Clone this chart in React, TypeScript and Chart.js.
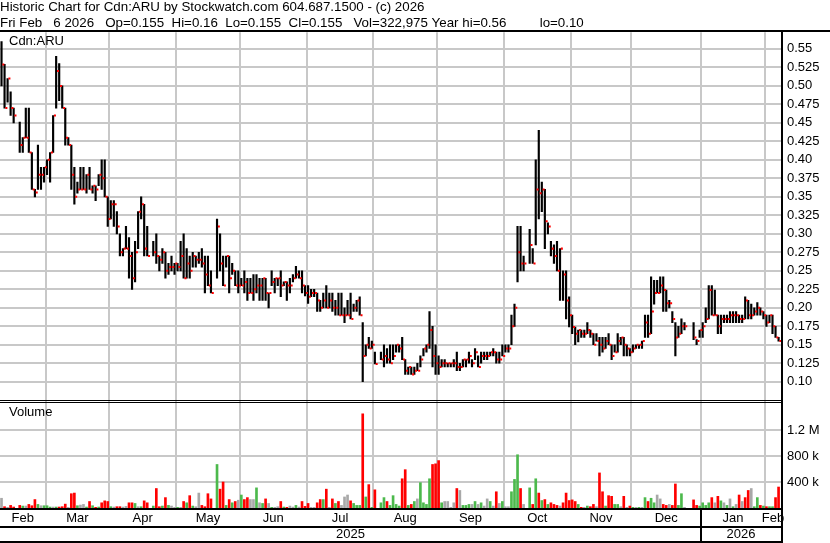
import { useEffect, useRef } from 'react';
import { Chart, registerables } from 'chart.js';

Chart.register(...registerables);

const FONT = '"Liberation Sans", Arial, Helvetica, sans-serif';

const headerLines = [
  'Historic Chart for Cdn:ARU by Stockwatch.com 604.687.1500 - (c) 2026',
  'Fri Feb   6 2026   Op=0.155  Hi=0.16  Lo=0.155  Cl=0.155   Vol=322,975 Year hi=0.56         lo=0.10',
];
const symbolLabel = 'Cdn:ARU';
const volumeLabel = 'Volume';

// one slot per trading session, null = no trade
const highs = [
  0.56, 0.529, 0.51, 0.492, 0.47, null, 0.451, 0.43, 0.47, 0.47,
  0.41, 0.36, 0.42, 0.39, 0.39, 0.40, 0.41, 0.46, 0.54, 0.53,
  0.50, 0.47, 0.43, 0.42, 0.39, 0.37, 0.39, 0.39, 0.38, 0.39,
  0.365, 0.365, 0.38, 0.40, 0.40, 0.35, 0.345, 0.345, 0.33, 0.30,
  0.28, 0.31, 0.295, 0.275, 0.29, 0.33, 0.35, 0.34, 0.31, null,
  0.29, 0.30, 0.27, 0.28, 0.275, 0.26, 0.27, 0.26, 0.26, 0.29,
  0.30, 0.28, 0.27, 0.275, 0.27, 0.275, 0.28, 0.27, 0.27, 0.25,
  null, 0.32, 0.30, 0.27, 0.27, 0.27, 0.26, 0.25, 0.25, 0.24,
  0.25, 0.24, 0.24, 0.245, 0.245, 0.24, 0.24, 0.24, 0.22, 0.25,
  0.24, 0.24, 0.25, 0.235, 0.235, 0.24, 0.245, 0.256, 0.25, 0.25,
  0.23, 0.23, 0.225, 0.225, 0.22, 0.21, 0.22, 0.23, 0.22, 0.22,
  0.21, 0.22, 0.22, 0.20, 0.21, 0.22, 0.205, 0.21, 0.215, 0.18,
  0.15, 0.16, 0.155, 0.14, null, 0.14, 0.15, 0.145, 0.15, 0.15,
  0.15, 0.15, 0.16, 0.13, 0.12, 0.12, 0.12, 0.125, 0.135, 0.145,
  0.15, 0.195, 0.175, 0.15, 0.135, 0.13, 0.13, 0.125, 0.125, 0.13,
  0.14, 0.125, 0.13, 0.13, 0.14, 0.13, 0.145, 0.135, 0.14, 0.14,
  0.14, 0.14, 0.145, 0.14, 0.14, 0.15, 0.15, 0.15, 0.19, 0.205,
  0.31, 0.31, 0.27, null, 0.306, 0.28, 0.40, 0.44, 0.37, 0.36,
  0.315, 0.29, 0.285, 0.29, 0.28, 0.25, 0.25, 0.215, 0.19, 0.174,
  0.17, 0.17, 0.17, 0.18, 0.17, 0.165, 0.165, 0.16, 0.16, 0.16,
  0.165, 0.15, 0.15, 0.165, 0.16, 0.16, 0.15, 0.145, 0.15, 0.15,
  0.15, 0.155, 0.19, 0.19, 0.242, 0.237, 0.237, 0.242, 0.242, 0.224,
  0.21, 0.195, 0.18, 0.175, 0.185, 0.18, null, null, 0.18, 0.157,
  0.17, 0.18, 0.20, 0.23, 0.23, 0.224, 0.19, 0.19, 0.19, 0.19,
  0.195, 0.195, 0.195, 0.19, 0.19, 0.215, 0.21, 0.205, 0.20, 0.207,
  0.20, 0.195, 0.19, 0.19, 0.19, 0.175, 0.16,
];

const lows = [
  0.50, 0.47, 0.478, 0.46, 0.45, null, 0.41, 0.41, 0.43, 0.41,
  0.36, 0.35, 0.36, 0.36, 0.37, 0.38, 0.37, 0.41, 0.47, 0.48,
  0.47, 0.42, 0.42, 0.36, 0.34, 0.355, 0.36, 0.36, 0.355, 0.36,
  0.355, 0.345, 0.365, 0.36, 0.35, 0.31, 0.32, 0.31, 0.30, 0.27,
  0.27, 0.28, 0.24, 0.225, 0.235, 0.28, 0.32, 0.27, 0.27, null,
  0.27, 0.26, 0.25, 0.26, 0.24, 0.245, 0.25, 0.245, 0.25, 0.25,
  0.24, 0.24, 0.24, 0.255, 0.255, 0.26, 0.255, 0.22, 0.23, 0.22,
  null, 0.24, 0.25, 0.23, 0.255, 0.22, 0.245, 0.23, 0.22, 0.23,
  0.22, 0.21, 0.22, 0.21, 0.22, 0.21, 0.21, 0.21, 0.20, 0.23,
  0.22, 0.23, 0.215, 0.23, 0.21, 0.22, 0.235, 0.24, 0.24, 0.22,
  0.216, 0.206, 0.215, 0.215, 0.195, 0.195, 0.20, 0.20, 0.20, 0.195,
  0.19, 0.19, 0.19, 0.18, 0.19, 0.185, 0.195, 0.195, 0.19, 0.10,
  0.135, 0.145, 0.145, 0.124, null, 0.13, 0.12, 0.125, 0.125, 0.13,
  0.14, 0.14, 0.13, 0.11, 0.11, 0.11, 0.11, 0.115, 0.12, 0.135,
  0.14, 0.145, 0.12, 0.11, 0.11, 0.12, 0.12, 0.12, 0.12, 0.12,
  0.115, 0.115, 0.12, 0.12, 0.125, 0.12, 0.13, 0.12, 0.125, 0.13,
  0.13, 0.135, 0.135, 0.125, 0.125, 0.135, 0.14, 0.14, 0.15, 0.175,
  0.235, 0.25, 0.25, null, 0.26, 0.26, 0.285, 0.32, 0.33, 0.28,
  0.30, 0.27, 0.26, 0.25, 0.21, 0.21, 0.185, 0.174, 0.165, 0.15,
  0.154, 0.16, 0.16, 0.165, 0.16, 0.15, 0.155, 0.135, 0.14, 0.145,
  0.15, 0.13, 0.14, 0.14, 0.15, 0.135, 0.135, 0.135, 0.14, 0.145,
  0.145, 0.145, 0.16, 0.16, 0.165, 0.205, 0.22, 0.22, 0.195, 0.195,
  0.20, 0.18, 0.135, 0.16, 0.165, 0.17, null, null, 0.157, 0.15,
  0.16, 0.16, 0.18, 0.185, 0.19, 0.19, 0.165, 0.165, 0.18, 0.18,
  0.18, 0.18, 0.18, 0.18, 0.18, 0.185, 0.185, 0.185, 0.19, 0.19,
  0.19, 0.185, 0.175, 0.18, 0.165, 0.16, 0.155,
];

const closes = [
  0.529, 0.47, 0.51, 0.47, 0.46, null, 0.42, 0.43, 0.43, 0.41,
  0.36, 0.356, 0.38, 0.38, 0.39, 0.40, 0.41, 0.46, 0.52, 0.50,
  0.47, 0.43, 0.42, 0.38, 0.35, 0.36, 0.36, 0.36, 0.38, 0.36,
  0.365, 0.36, 0.38, 0.375, 0.35, 0.32, 0.34, 0.34, 0.31, 0.275,
  0.28, 0.28, 0.27, 0.24, 0.275, 0.33, 0.34, 0.28, 0.27, null,
  0.275, 0.27, 0.265, 0.275, 0.25, 0.255, 0.255, 0.26, 0.255, 0.27,
  0.24, 0.26, 0.25, 0.27, 0.265, 0.265, 0.26, 0.245, 0.23, 0.22,
  null, 0.31, 0.26, 0.23, 0.27, 0.24, 0.25, 0.23, 0.23, 0.23,
  0.235, 0.22, 0.22, 0.225, 0.23, 0.23, 0.24, 0.22, 0.22, 0.235,
  0.24, 0.24, 0.23, 0.235, 0.23, 0.23, 0.24, 0.245, 0.24, 0.23,
  0.22, 0.215, 0.22, 0.22, 0.21, 0.20, 0.21, 0.20, 0.21, 0.20,
  0.20, 0.19, 0.19, 0.19, 0.19, 0.185, 0.20, 0.21, 0.19, 0.135,
  0.15, 0.145, 0.15, 0.124, null, 0.13, 0.135, 0.13, 0.125, 0.135,
  0.15, 0.145, 0.13, 0.115, 0.12, 0.11, 0.115, 0.115, 0.13, 0.145,
  0.15, 0.17, 0.135, 0.125, 0.12, 0.125, 0.125, 0.125, 0.125, 0.125,
  0.12, 0.12, 0.13, 0.13, 0.135, 0.125, 0.14, 0.12, 0.135, 0.135,
  0.135, 0.14, 0.14, 0.13, 0.13, 0.135, 0.145, 0.145, 0.175, 0.20,
  0.275, 0.26, 0.26, null, 0.285, 0.26, 0.36, 0.355, 0.36, 0.317,
  0.31, 0.28, 0.27, 0.25, 0.28, 0.245, 0.21, 0.19, 0.174, 0.165,
  0.17, 0.165, 0.165, 0.17, 0.165, 0.15, 0.155, 0.15, 0.145, 0.155,
  0.15, 0.135, 0.14, 0.155, 0.16, 0.15, 0.145, 0.14, 0.145, 0.15,
  0.15, 0.155, 0.18, 0.165, 0.195, 0.22, 0.22, 0.23, 0.224, 0.206,
  0.206, 0.185, 0.16, 0.165, 0.175, 0.175, null, null, 0.16, 0.155,
  0.17, 0.175, 0.185, 0.224, 0.19, 0.19, 0.175, 0.185, 0.185, 0.185,
  0.19, 0.19, 0.19, 0.185, 0.185, 0.21, 0.19, 0.19, 0.195, 0.20,
  0.195, 0.19, 0.18, 0.19, 0.175, 0.16, 0.155,
];

// volume in thousands of shares
const volumeK = [
  150, 20, 10, 40, 15, null, 40, 30, 30, 55,
  35, 130, 55, 35, 35, 35, 15, 15, 15, 15,
  20, 60, 10, 220, 230, 35, 45, 55, 15, 100,
  35, 10, 15, 80, 110, 100, 20, 15, 20, 20,
  15, 25, 80, 80, 70, 20, 20, 110, 80, null,
  30, 300, 20, 30, 160, 40, 30, 10, 10, 10,
  100, 80, 190, 30, 20, 230, 40, 20, 220, 140,
  null, 670, 290, 400, 40, 130, 80, 100, 120, 200,
  130, 160, 130, 130, 310, 80, 70, 140, 70, 10,
  10, 20, 100, 15, 10, 30, 15, 40, 15, 100,
  25, 70, 10, 10, 80, 130, 130, 290, 10, 140,
  70, 100, 40, 170, 200, 110, 70, 40, 40, 1450,
  170, 360, 10, 280, null, 80, 160, 100, 40, 190,
  55, 30, 450, 590, 40, 55, 100, 140, 390, 80,
  55, 450, 670, 680, 730, 80, 100, 100, 10, 80,
  300, 270, 40, 40, 55, 55, 100, 55, 80, 30,
  140, 100, 30, 250, 70, 100, 20, 20, 250, 440,
  820, 300, 55, null, 310, 55, 450, 230, 115, 130,
  55, 80, 55, 40, 30, 80, 230, 115, 125, 100,
  55, 10, 10, 30, 20, 55, 20, 540, 250, 30,
  190, 180, 55, 55, 20, 180, 10, 30, 10, 10,
  10, 10, 160, 100, 150, 80, 200, 140, 55, 40,
  55, 40, 370, 40, 220, 10, null, null, 125, 40,
  30, 80, 40, 80, 160, 80, 180, 110, 80, 40,
  140, 20, 55, 200, 100, 160, 270, 300, 20, 160,
  40, 30, 20, 20, 20, 160, 323,
];

// u = up, d = down, n = unchanged
const volumeDir = [
  'n', 'd', 'n', 'd', 'd', null, 'd', 'u', 'n', 'd',
  'd', 'd', 'u', 'n', 'u', 'u', 'u', 'n', 'u', 'd',
  'd', 'd', 'n', 'd', 'd', 'u', 'n', 'n', 'u', 'd',
  'u', 'd', 'u', 'd', 'd', 'd', 'u', 'n', 'd', 'd',
  'n', 'n', 'd', 'd', 'u', 'n', 'u', 'd', 'd', null,
  'u', 'd', 'd', 'u', 'd', 'u', 'n', 'n', 'u', 'n',
  'd', 'u', 'd', 'u', 'n', 'n', 'd', 'd', 'd', 'd',
  null, 'u', 'd', 'd', 'u', 'd', 'u', 'd', 'n', 'u',
  'd', 'd', 'n', 'n', 'u', 'n', 'u', 'd', 'n', 'u',
  'n', 'n', 'd', 'u', 'd', 'n', 'n', 'u', 'n', 'd',
  'd', 'd', 'n', 'n', 'd', 'd', 'u', 'd', 'n', 'd',
  'u', 'd', 'n', 'n', 'n', 'd', 'u', 'u', 'u', 'd',
  'u', 'd', 'u', 'd', null, 'u', 'u', 'd', 'u', 'u',
  'u', 'u', 'd', 'd', 'u', 'd', 'u', 'n', 'u', 'u',
  'u', 'u', 'd', 'd', 'd', 'u', 'n', 'n', 'n', 'n',
  'd', 'n', 'u', 'u', 'u', 'n', 'u', 'n', 'u', 'n',
  'n', 'u', 'n', 'd', 'n', 'u', 'n', 'n', 'u', 'u',
  'u', 'd', 'n', null, 'u', 'd', 'u', 'd', 'u', 'd',
  'u', 'd', 'd', 'd', 'n', 'd', 'd', 'd', 'd', 'd',
  'u', 'd', 'n', 'u', 'd', 'd', 'n', 'd', 'd', 'u',
  'd', 'd', 'u', 'u', 'n', 'd', 'n', 'd', 'u', 'n',
  'u', 'n', 'u', 'd', 'u', 'u', 'n', 'n', 'd', 'd',
  'n', 'd', 'd', 'u', 'u', 'n', null, null, 'd', 'd',
  'u', 'u', 'u', 'u', 'd', 'n', 'd', 'u', 'n', 'u',
  'n', 'u', 'n', 'd', 'n', 'd', 'd', 'n', 'u', 'u',
  'd', 'u', 'd', 'u', 'u', 'd', 'd',
];

const monthNames = ['Feb', 'Mar', 'Apr', 'May', 'Jun', 'Jul', 'Aug', 'Sep', 'Oct', 'Nov', 'Dec', 'Jan', 'Feb'];
const monthStarts = [0, 15, 36, 58, 79, 101, 123, 144, 166, 188, 208, 231, 252];
const yearNames = ['2025', '2026'];
const yearStarts = [0, 231];

const priceTicks = [0.10, 0.125, 0.15, 0.175, 0.20, 0.225, 0.25, 0.275, 0.30, 0.325, 0.35, 0.375, 0.40, 0.425, 0.45, 0.475, 0.50, 0.525, 0.55];
const priceTickLabels = ['0.10', '0.125', '0.15', '0.175', '0.20', '0.225', '0.25', '0.275', '0.30', '0.325', '0.35', '0.375', '0.40', '0.425', '0.45', '0.475', '0.50', '0.525', '0.55'];
const volumeTicks = [400000, 800000, 1200000];
const volumeTickLabels = ['400 k', '800 k', '1.2 M'];

// axis ranges
const X_MIN = -0.5;
const X_MAX = 256.8;
const PRICE_MIN = 0.0753;
const PRICE_MAX = 0.5726;
const VOL_MIN = 0;
const VOL_MAX = 1662000;

const GRID = '#c8c8c8';
const DIR_COLORS: Record<string, string> = { u: '#4cb94c', d: '#ff0000', n: '#a8a8a8' };
const CLOSE_OFFSET = 0.6;

function buildXTicks() {
  const list: { value: number; label: string; grid: boolean }[] = [];
  monthStarts.forEach((s, k) => {
    const a = s - 0.5;
    const b = k + 1 < monthStarts.length ? monthStarts[k + 1] - 0.5 : X_MAX;
    if (k > 0) list.push({ value: a, label: '', grid: true });
    list.push({ value: (a + b) / 2, label: monthNames[k], grid: false });
  });
  return list;
}

function buildYearTicks() {
  return yearStarts.map((s, k) => {
    const a = s - 0.5;
    const b = k + 1 < yearStarts.length ? yearStarts[k + 1] - 0.5 : X_MAX;
    return { value: (a + b) / 2, label: yearNames[k] };
  });
}

const noPadding = (s: any) => {
  s.paddingLeft = 0;
  s.paddingRight = 0;
  s.paddingTop = 0;
  s.paddingBottom = 0;
};

const framePlugin = {
  id: 'stockFrame',
  afterDraw(chart: any) {
    const { ctx, chartArea, scales } = chart;
    const W = chart.width;
    const H = chart.height;
    const left = 0;
    const right = Math.round(chartArea.right);
    const py = scales.y;
    const vy = scales.vol;
    const xs = scales.x;
    const x2 = scales.x2;
    const top = Math.round(chartArea.top);
    const bottom = Math.round(chartArea.bottom);
    ctx.save();
    ctx.fillStyle = '#000';
    // top rule under header
    ctx.fillRect(0, top - 2, W, 2);
    // double rule between panels
    ctx.fillRect(left, Math.round(py.bottom), right - left, 1);
    ctx.fillRect(left, Math.round(py.bottom) + 2, right - left, 1);
    // rule under volume
    ctx.fillRect(left, bottom, right - left, 2);
    // rule under month row
    ctx.fillRect(left, Math.round(xs.bottom), right - left, 2);
    // rule under year row
    ctx.fillRect(left, Math.round(x2.bottom) - 2, right - left + 2, 2);
    // year separator
    const sepX = Math.round(xs.getPixelForValue(yearStarts[1] - 0.5));
    ctx.fillRect(sepX - 1, bottom, 2, H - bottom);
    // right axis rule
    ctx.fillRect(right, top - 2, 2, H - top + 2);
    // panel captions
    ctx.font = '13px ' + FONT;
    ctx.textBaseline = 'top';
    ctx.textAlign = 'left';
    ctx.fillText(symbolLabel, 9, py.top + 2.5);
    ctx.fillText(volumeLabel, 9, vy.top + 6);
    ctx.restore();
  },
};

export default function App() {
  const ref = useRef<HTMLCanvasElement>(null);

  useEffect(() => {
    const canvas = ref.current;
    if (!canvas) return;

    const hlData: any[] = [];
    const closeData: any[] = [];
    highs.forEach((h, i) => {
      if (h == null || lows[i] == null || closes[i] == null) return;
      hlData.push({ x: i, y: [lows[i], h] });
      closeData.push({ x: i + CLOSE_OFFSET, y: closes[i] });
    });
    const volData: any[] = [];
    const volColors: string[] = [];
    volumeK.forEach((v, i) => {
      if (v == null) return;
      volData.push({ x: i, y: v * 1000 });
      volColors.push(DIR_COLORS[volumeDir[i] || 'n']);
    });

    const xTicks = buildXTicks();
    const yearTicks = buildYearTicks();

    Chart.defaults.font.family = FONT;
    Chart.defaults.font.size = 13;
    Chart.defaults.color = '#000';

    const chart = new Chart(canvas, {
      type: 'bar',
      data: {
        datasets: [
          {
            type: 'scatter',
            data: closeData,
            xAxisID: 'x',
            yAxisID: 'y',
            pointStyle: 'rect',
            pointRadius: 1.42,
            pointBorderWidth: 0,
            borderWidth: 0,
            backgroundColor: '#ff0000',
            borderColor: '#ff0000',
            order: 0,
          } as any,
          {
            type: 'bar',
            data: hlData,
            xAxisID: 'x',
            yAxisID: 'y',
            backgroundColor: '#000',
            barThickness: 1.5,
            maxBarThickness: 1.5,
            grouped: false,
            minBarLength: 1,
            order: 1,
          } as any,
          {
            type: 'bar',
            data: volData,
            xAxisID: 'x',
            yAxisID: 'vol',
            backgroundColor: volColors,
            barThickness: 2,
            maxBarThickness: 2,
            grouped: false,
            order: 2,
          } as any,
        ],
      },
      options: {
        responsive: false,
        animation: false,
        events: [],
        layout: { padding: 0, autoPadding: false },
        plugins: {
          legend: { display: false },
          tooltip: { enabled: false },
          title: {
            display: true,
            text: headerLines,
            align: 'start',
            color: '#000',
            font: { family: FONT, size: 13.33, weight: 'normal', lineHeight: 1.17 },
            padding: { top: 0, bottom: 1 },
          },
        },
        scales: {
          x: {
            type: 'linear',
            position: 'bottom',
            offset: false,
            weight: 0,
            min: X_MIN,
            max: X_MAX,
            afterBuildTicks: (s: any) => {
              s.ticks = xTicks.map((t) => ({ value: t.value, grid: t.grid }));
            },
            afterFit: (s: any) => {
              s.height = 18;
              noPadding(s);
            },
            ticks: {
              autoSkip: false,
              maxRotation: 0,
              padding: 3,
              color: '#000',
              font: { family: FONT, size: 13 },
              callback: (_v: any, i: number) => (xTicks[i] ? xTicks[i].label : ''),
            },
            grid: {
              offset: false,
              drawTicks: false,
              tickLength: 0,
              lineWidth: 2,
              color: (c: any) => (c.tick && c.tick.grid ? GRID : 'rgba(0,0,0,0)'),
            },
            border: { display: false },
          },
          x2: {
            type: 'linear',
            position: 'bottom',
            offset: false,
            weight: 1,
            min: X_MIN,
            max: X_MAX,
            afterBuildTicks: (s: any) => {
              s.ticks = yearTicks.map((t) => ({ value: t.value }));
            },
            afterFit: (s: any) => {
              s.height = 17;
              noPadding(s);
            },
            ticks: {
              autoSkip: false,
              maxRotation: 0,
              padding: 1,
              color: '#000',
              font: { family: FONT, size: 13 },
              callback: (_v: any, i: number) => (yearTicks[i] ? yearTicks[i].label : ''),
            },
            grid: { display: false, offset: false, drawTicks: false, tickLength: 0 },
            border: { display: false },
          },
          y: {
            type: 'linear',
            position: 'right',
            stack: 'panels',
            stackWeight: 368,
            min: PRICE_MIN,
            max: PRICE_MAX,
            afterBuildTicks: (s: any) => {
              s.ticks = priceTicks.map((v) => ({ value: v }));
            },
            afterFit: (s: any) => {
              s.width = 49;
              noPadding(s);
            },
            ticks: {
              autoSkip: false,
              padding: 6,
              color: '#000',
              font: { family: FONT, size: 13 },
              callback: (_v: any, i: number) => priceTickLabels[i],
            },
            grid: { color: GRID, lineWidth: 2, drawTicks: false, tickLength: 0 },
            border: { display: false },
          },
          vol: {
            type: 'linear',
            position: 'right',
            stack: 'panels',
            stackWeight: 108,
            min: VOL_MIN,
            max: VOL_MAX,
            afterBuildTicks: (s: any) => {
              s.ticks = volumeTicks.map((v) => ({ value: v }));
            },
            afterFit: (s: any) => {
              s.width = 49;
              noPadding(s);
            },
            ticks: {
              autoSkip: false,
              padding: 6,
              color: '#000',
              font: { family: FONT, size: 13 },
              callback: (_v: any, i: number) => volumeTickLabels[i],
            },
            grid: { color: GRID, lineWidth: 2, drawTicks: false, tickLength: 0 },
            border: { display: false },
          },
        },
      } as any,
      plugins: [framePlugin],
    });

    return () => {
      chart.destroy();
    };
  }, []);

  return (
    <div style={{ position: 'absolute', left: 0, top: 0, width: 830, height: 543, background: '#fff' }}>
      <canvas ref={ref} width={830} height={543} style={{ display: 'block', width: 830, height: 543 }} />
    </div>
  );
}
